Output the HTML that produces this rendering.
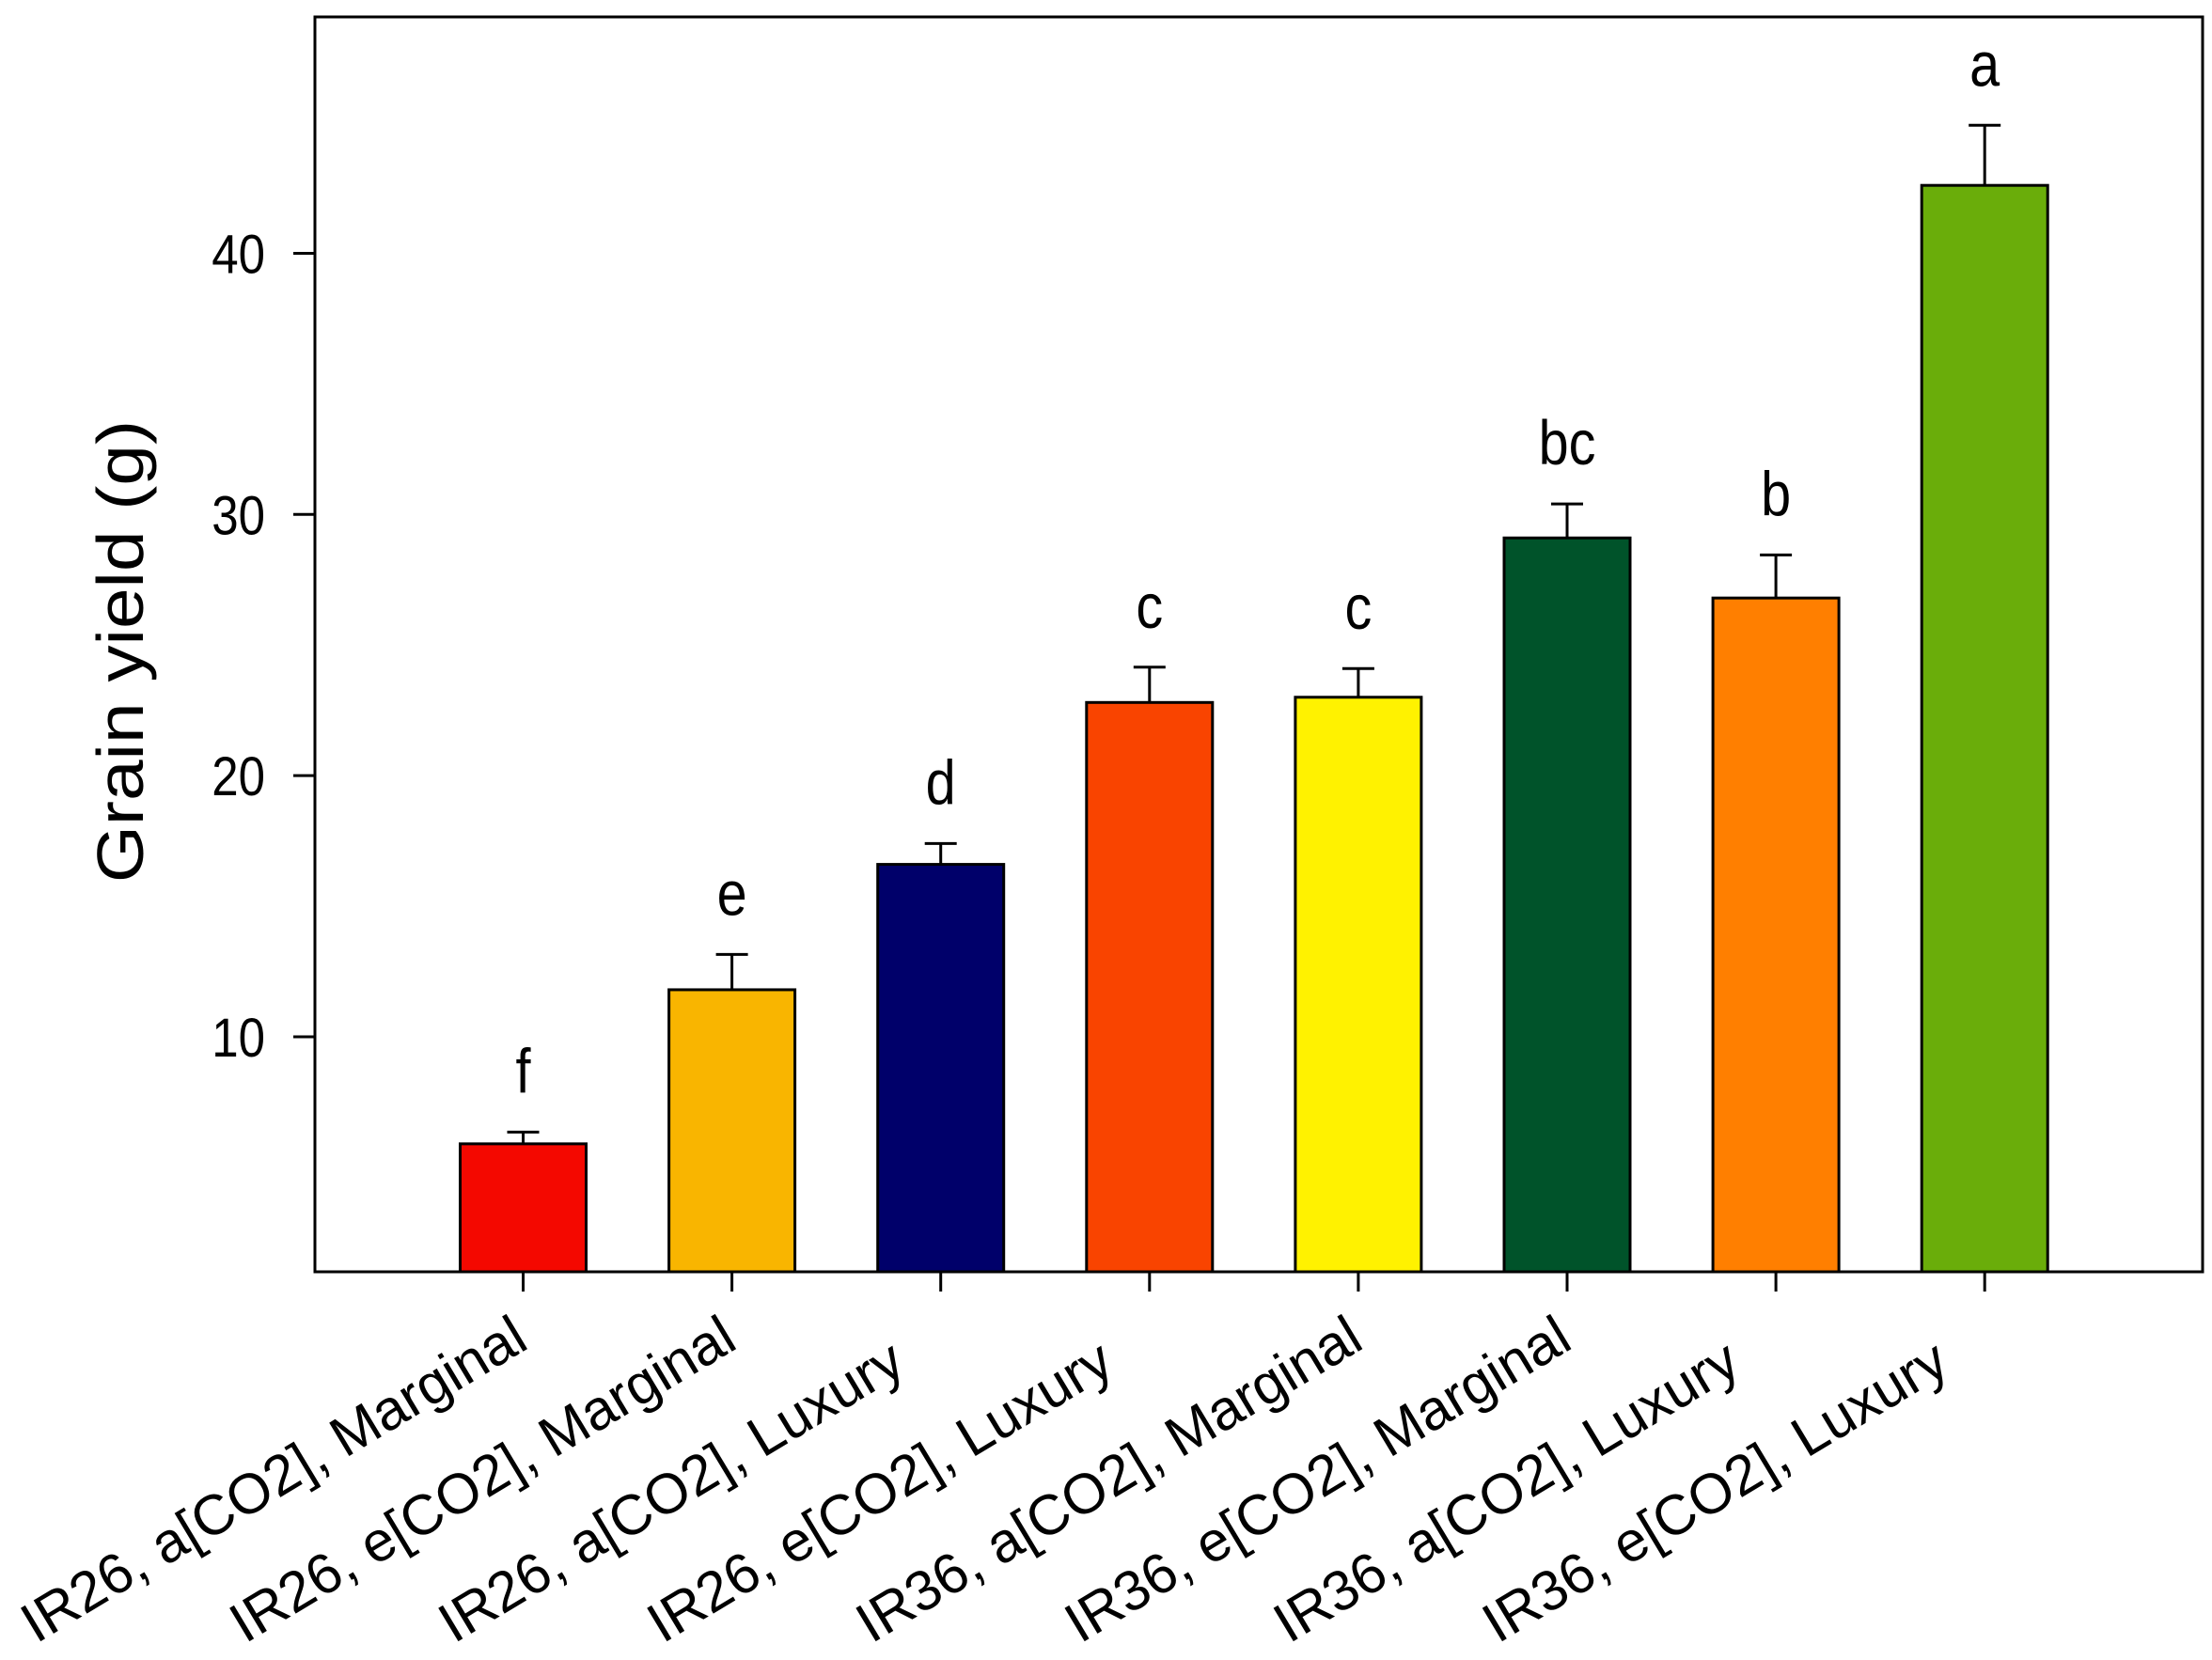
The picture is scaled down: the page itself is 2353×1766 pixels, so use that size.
<!DOCTYPE html>
<html><head><meta charset="utf-8"><style>
html,body{margin:0;padding:0;background:#fff;}
svg{display:block;font-family:"Liberation Sans",Arial,sans-serif;}
</style></head><body>
<svg id="chart" width="2353" height="1766" viewBox="0 0 2353 1766">
<rect width="2353" height="1766" fill="#fff"/>
<g id="bars"></g>
<g id="axes"></g>
</svg>
<script>
const categories=["IR26, a[CO2], Marginal","IR26, e[CO2], Marginal","IR26, a[CO2], Luxury","IR26, e[CO2], Luxury","IR36, a[CO2], Marginal","IR36, e[CO2], Marginal","IR36, a[CO2], Luxury","IR36, e[CO2], Luxury"];
const values=[5.9,11.8,16.6,22.8,23.0,29.1,26.8,42.6];
const errors=[0.45,1.35,0.8,1.35,1.1,1.3,1.65,2.3];
const letters=["f","e","d","c","c","bc","b","a"];
const colors=["#f40800","#f9b500","#00006a","#f94400","#fff200","#00532a","#ff7f00","#6aad0a"];
const yTicks=[10,20,30,40];
const L=335,R=2343,T=18,B=1353,yMin=1,yMax=49.05;
const ns="http://www.w3.org/2000/svg";
function y(v){return B-(v-yMin)/(yMax-yMin)*(B-T);}
function xc(i){return 556.5+i*222.1;}
function mk(tag,attrs,parent,text){const e=document.createElementNS(ns,tag);for(const k in attrs)e.setAttribute(k,attrs[k]);if(text!==undefined)e.textContent=text;parent.appendChild(e);return e;}
const bars=document.getElementById('bars'),axes=document.getElementById('axes');
const bw=134;
values.forEach((v,i)=>{
  const cx=xc(i);
  const r=mk('rect',{x:cx-bw/2,y:y(v),width:bw,height:B-y(v),fill:colors[i],stroke:'#000','stroke-width':3},bars);
  
  
  const et=y(v+errors[i]);
  const el=mk('path',{d:`M${cx},${y(v)}V${et}M${cx-17},${et}H${cx+17}`,stroke:'#000','stroke-width':3,fill:'none'},bars);
  
  
  const t=mk('text',{x:0,y:0,'text-anchor':'middle','font-size':64,transform:`translate(${cx},${et-42}) scale(0.9,1.05)`},bars,letters[i]);
  
  
  const tk=mk('line',{x1:cx,x2:cx,y1:B,y2:B+21,stroke:'#000','stroke-width':3},axes);
  
  
  const lb=mk('text',{x:0,y:0,'text-anchor':'start','font-size':60,transform:`translate(${cx-518},1749) rotate(-31)`},axes,categories[i]);
  
  
});
yTicks.forEach(v=>{
  const tk=mk('line',{x1:L-23,x2:L,y1:y(v),y2:y(v),stroke:'#000','stroke-width':3},axes);
  
  
  const lb=mk('text',{x:0,y:0,'text-anchor':'end','font-size':58,transform:`translate(282,${y(v)+21}) scale(0.88,1)`},axes,String(v));
  
  
});
const fr=mk('rect',{x:L,y:T,width:R-L,height:B-T,fill:'none',stroke:'#000','stroke-width':3},axes);


const yt=mk('text',{x:0,y:0,'text-anchor':'middle','font-size':70,transform:'translate(152,693) rotate(-90) scale(1.12,1)'},axes,'Grain yield (g)');


</script>
</body></html>
